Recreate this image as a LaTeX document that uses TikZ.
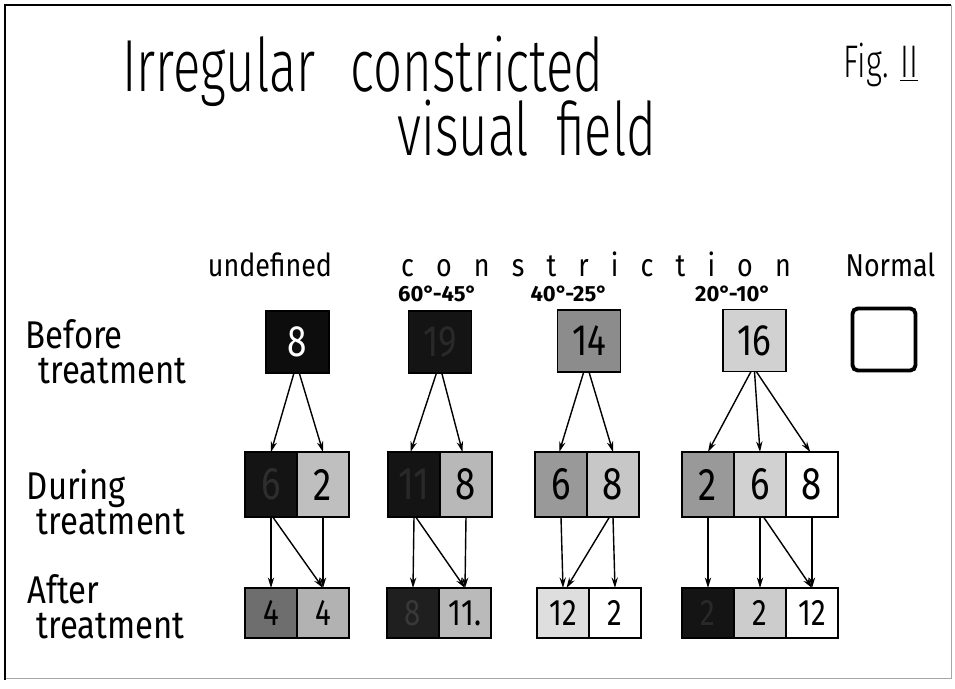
\documentclass[tikz,border=0pt]{standalone}
\usepackage{fontspec}
\setmainfont{Fira Sans}
\newfontfamily\handfont{Fira Sans}[FakeStretch=0.85]
\newfontfamily\titlefont{Fira Sans}[UprightFont=* Light, FakeStretch=0.69]
\newfontfamily\digitfont{Fira Sans}[FakeStretch=0.8]
\usetikzlibrary{arrows.meta, positioning}
\tikzstyle{cell} = [rectangle, draw, line width=1pt, minimum width=1.04cm, minimum height=1.3cm, inner sep=0pt, outer sep=0pt, font=\digitfont\fontsize{26}{26}\selectfont]
\tikzstyle{lowcell} = [cell, minimum height=1cm, font=\digitfont\fontsize{21}{21}\selectfont]
\tikzstyle{topbox} = [cell, minimum width=1.26cm, minimum height=1.24cm, font=\digitfont\fontsize{25}{25}\selectfont]
\tikzstyle{arr} = [-{Stealth[length=6pt, width=3.6pt]}, line width=0.8pt]
\tikzstyle{titletext} = [anchor=base west, inner sep=0pt, font=\titlefont\fontsize{42}{42}\selectfont]
\tikzstyle{rowlabel} = [align=left, font=\handfont\fontsize{22}{20}\selectfont]
\tikzstyle{collabel} = [anchor=base, font=\handfont\fontsize{18}{18}\selectfont]
\tikzstyle{anglelabel} = [font=\bfseries\fontsize{12.5}{12.5}\selectfont]

\begin{document}
\begin{tikzpicture}
        \useasboundingbox (0, 0) rectangle (19.1, -13.78);
        \draw[black!35, line width=0.4pt] (0.1, -0.1) rectangle (19.02, -13.56);
        \draw[line width=1.6pt] (0.1, -13.6) -- (0.1, -0.1) -- (19.02, -0.1);

        \node[titletext] (title_irregular) at (2.44, -1.84) {Irregular};
        \node[titletext] (title_constricted) at ([xshift=0.68cm]title_irregular.base east) {constricted};
        \node[titletext] (title_field) at (7.94, -3.12) {visual\hspace{0.25cm} field};
        \node[anchor=base, font=\titlefont\fontsize{26}{26}\selectfont] (fig) at (17.62, -1.56) {Fig. \underline{II}};

        \node[collabel] (undefined) at (5.40, -5.54) {undefined};
        \node[collabel] (constriction) at (11.92, -5.54) {\spaceskip=12.6pt c o n s t r i c t i o n};
        \node[collabel] (normal_label) at (17.81, -5.54) {Normal};
        \node[anglelabel] (range_1) at (8.75, -5.88) {60°-45°};
        \node[anglelabel] (range_2) at (11.38, -5.88) {40°-25°};
        \node[anglelabel] (range_3) at (14.66, -5.88) {20°-10°};

        \node[rowlabel] (before_label) at (2.12, -7.04) {Before\\\hspace*{0.26cm}treatment};
        \node[rowlabel] (during_label) at (2.12, -10.04) {During\\\hspace*{0.2cm}treatment};
        \node[rowlabel] (after_label) at (2.12, -12.14) {After\\\hspace*{0.18cm}treatment};

        \node[topbox, fill=black!95, text=white] (before_1) at (5.95, -6.84) {8};
        \node[topbox, fill=black!92, text=black!84] (before_2) at (8.80, -6.84) {19};
        \node[topbox, fill=black!45] (before_3) at (11.78, -6.82) {14};
        \node[topbox, fill=black!18] (before_4) at (15.09, -6.81) {16};
        \node[topbox, line width=2.2pt, rounded corners=3pt] (normal) at (17.68, -6.79) {};

        \node[cell, fill=black!92, text=black!82] (during_1a) at (5.42, -9.69) {6};
        \node[cell, fill=black!25, right=0pt of during_1a] (during_1b) {2};
        \node[cell, fill=black!92, text=black!84] (during_2a) at (8.28, -9.69) {11};
        \node[cell, fill=black!28, right=0pt of during_2a] (during_2b) {8};
        \node[cell, fill=black!40] (during_3a) at (11.22, -9.69) {6};
        \node[cell, fill=black!22, right=0pt of during_3a] (during_3b) {8};
        \node[cell, fill=black!40] (during_4a) at (14.16, -9.69) {2};
        \node[cell, fill=black!18, right=0pt of during_4a] (during_4b) {6};
        \node[cell, right=0pt of during_4b] (during_4c) {8};

        \node[lowcell, fill=black!57] (after_1a) at (5.42, -12.26) {4};
        \node[lowcell, fill=black!30, right=0pt of after_1a] (after_1b) {4};
        \node[lowcell, fill=black!88, text=black!78] (after_2a) at (8.26, -12.26) {8};
        \node[lowcell, fill=black!27, right=0pt of after_2a] (after_2b) {11.};
        \node[lowcell, fill=black!13] (after_3a) at (11.26, -12.26) {12};
        \node[lowcell, right=0pt of after_3a] (after_3b) {2};
        \node[lowcell, fill=black!92, text=black!84] (after_4a) at (14.16, -12.26) {2};
        \node[lowcell, fill=black!20, right=0pt of after_4a] (after_4b) {2};
        \node[lowcell, right=0pt of after_4b] (after_4c) {12};

        \draw[arr] ([xshift=-2pt]before_1.south) -- (during_1a.north);
        \draw[arr] ([xshift=1pt]before_1.south) -- (during_1b.north);
        \draw[arr] ([xshift=-2pt]before_2.south) -- ([xshift=-2pt]during_2a.north);
        \draw[arr] ([xshift=1pt]before_2.south) -- ([xshift=-2pt]during_2b.north);
        \draw[arr] ([xshift=-3pt]before_3.south) -- ([xshift=-1pt]during_3a.north);
        \draw[arr] (before_3.south) -- (during_3b.north);
        \draw[arr] ([xshift=-2pt]before_4.south) -- (during_4a.north);
        \draw[arr] (before_4.south) -- (during_4b.north);
        \draw[arr] ([xshift=1pt]before_4.south) -- ([xshift=-1pt]during_4c.north);

        \draw[arr] (during_1a.south) -- (after_1a.north);
        \draw[arr] ([xshift=1pt]during_1a.south) -- (after_1b.north);
        \draw[arr] (during_1b.south) -- (after_1b.north);
        \draw[arr] (during_2a.south) -- (after_2a.north);
        \draw[arr] ([xshift=1pt]during_2a.south) -- (after_2b.north);
        \draw[arr] (during_2b.south) -- (after_2b.north);
        \draw[arr] (during_3a.south) -- (after_3a.north);
        \draw[arr] ([xshift=-2pt]during_3b.south) -- ([xshift=2pt]after_3a.north);
        \draw[arr] (during_3b.south) -- (after_3b.north);
        \draw[arr] (during_4a.south) -- (after_4a.north);
        \draw[arr] (during_4b.south) -- (after_4b.north);
        \draw[arr] ([xshift=2pt]during_4b.south) -- (after_4c.north);
        \draw[arr] (during_4c.south) -- (after_4c.north);
    \end{tikzpicture}
\end{document}
